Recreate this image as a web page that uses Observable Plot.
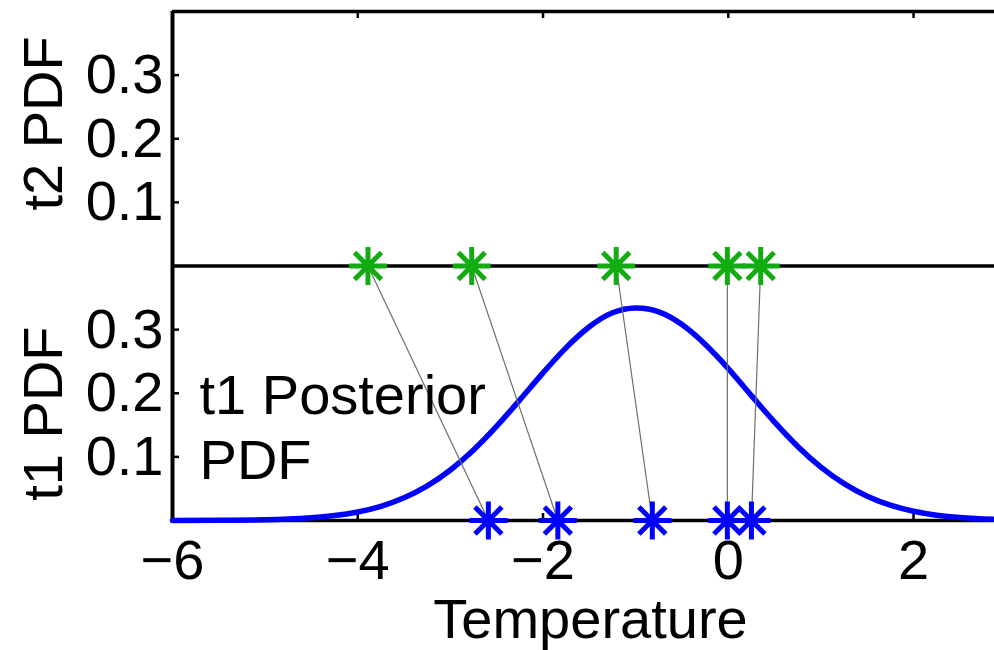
<!DOCTYPE html>
<html>
<head>
<meta charset="utf-8">
<script src="https://cdn.jsdelivr.net/npm/d3@7"></script>
<script src="https://cdn.jsdelivr.net/npm/@observablehq/plot@0.6"></script>
<style>
  html, body { margin: 0; padding: 0; background: #fff; overflow: hidden; }
</style>
</head>
<body>
<div id="chart"></div>
<script>
// ---- data ----
const temperature = [-6, -5.5, -5, -4.75, -4.5, -4.25, -4, -3.75, -3.5, -3.25, -3, -2.75, -2.5, -2.25, -2, -1.75, -1.5, -1.25, -1, -0.75, -0.5, -0.25, 0, 0.25, 0.5, 0.75, 1, 1.25, 1.5, 1.75, 2, 2.25, 2.5, 2.75, 3];
const t1PosteriorPdf = [0.0000, 0.0002, 0.0011, 0.0022, 0.0042, 0.0077, 0.0134, 0.0223, 0.0356, 0.0543, 0.0793, 0.1108, 0.1482, 0.1896, 0.2320, 0.2717, 0.3045, 0.3265, 0.3340, 0.3280, 0.3080, 0.2770, 0.2387, 0.1963, 0.1546, 0.1164, 0.0839, 0.0579, 0.0382, 0.0241, 0.0146, 0.0084, 0.0047, 0.0025, 0.0012];
const t2Samples = [-3.89, -2.77, -1.21, -0.01, 0.35];
const t1Samples = [-2.59, -1.84, -0.82, -0.01, 0.25];
const xTickValues = [-6, -4, -2, 0, 2];
const yTickValues = [0.1, 0.2, 0.3];
const panelLabels = ["t2 PDF", "t1 PDF"];
const annotation = "t1 Posterior\nPDF";
const xLabel = "Temperature";

// ---- layout constants ----
const PANEL = 0.4;           // height of each panel in PDF units (t1 below, t2 stacked above)
const BLUE = "#0000ff";
const GREEN = "rgb(18,172,18)";
const FONT = "'Liberation Sans', Arial, Helvetica, sans-serif";

const curve = temperature.map((x, i) => ({x, y: t1PosteriorPdf[i]}));
const pairs = t2Samples.map((t2, i) => ({t2, t1: t1Samples[i]}));
const yTickPositions = [...yTickValues, ...yTickValues.map(v => v + PANEL)];
const innerTicksX = xTickValues.filter(v => v !== -6);

// MATLAB-style "*" marker: plus + cross
const asterisk = {
  draw(ctx, size) {
    const r = Math.sqrt(size / Math.PI);
    const d = r * Math.SQRT1_2;
    ctx.moveTo(-r, 0); ctx.lineTo(r, 0);
    ctx.moveTo(0, -r); ctx.lineTo(0, r);
    ctx.moveTo(-d, -d); ctx.lineTo(d, d);
    ctx.moveTo(-d, d); ctx.lineTo(d, -d);
  }
};

const tickLen = 7 / 636; // inward tick length (y units)
const tickLenX = 7 / 92.6; // inward tick length (x units)

const chart = Plot.plot({
  width: 994,
  height: 650,
  marginLeft: 172,
  marginRight: 0,
  marginTop: 11,
  marginBottom: 130,
  style: {fontFamily: FONT, fontSize: "56px", background: "white", color: "black", overflow: "hidden"},
  x: {domain: [-6, 2.874]},
  y: {domain: [0, 2 * PANEL]},
  marks: [
    // frame: left edge and horizontal lines (bottom, panel divider, top)
    Plot.ruleX([-6], {y1: 0, y2: 2 * PANEL, stroke: "black", strokeWidth: 4}),
    Plot.ruleY([0, PANEL, 2 * PANEL], {x1: -6, x2: 2.874, stroke: "black", strokeWidth: 3.5}),
    // inward ticks
    Plot.ruleX(innerTicksX, {x: d => d, y1: 0, y2: tickLen, stroke: "black", strokeWidth: 2.5}),
    Plot.ruleX(innerTicksX, {x: d => d, y1: 2 * PANEL - tickLen, y2: 2 * PANEL, stroke: "black", strokeWidth: 2.5}),
    Plot.ruleY(yTickPositions, {y: d => d, x1: -6, x2: -6 + tickLenX, stroke: "black", strokeWidth: 2.5}),
    // axes labels
    Plot.axisX(xTickValues, {tickSize: 0, tickPadding: 19, fontSize: 56, label: null}),
    Plot.axisY(yTickPositions, {tickSize: 0, tickPadding: 9, fontSize: 56, label: null,
      tickFormat: d => (d > PANEL ? d - PANEL : d).toFixed(1)}),
    // t1 posterior curve
    Plot.line(curve, {x: "x", y: "y", stroke: BLUE, strokeWidth: 5.5, curve: "natural"}),
    // links from t2 samples to t1 samples
    Plot.link(pairs, {x1: "t2", y1: () => PANEL, x2: "t1", y2: () => 0, stroke: "#6e6e6e", strokeWidth: 1.2}),
    // sample markers
    Plot.dot(t1Samples, {x: d => d, y: () => 0, symbol: asterisk, r: 19, stroke: BLUE, fill: "none", strokeWidth: 5}),
    Plot.dot(t2Samples, {x: d => d, y: () => PANEL, symbol: asterisk, r: 19, stroke: GREEN, fill: "none", strokeWidth: 5}),
    // annotation
    Plot.text([annotation], {x: -5.708, y: 0.066, text: d => d, textAnchor: "start", lineAnchor: "bottom", lineHeight: 1.16, fontSize: 56, fill: "black"}),
    // panel y labels
    Plot.text(panelLabels, {frameAnchor: "left", y: [0.624, 0.168], text: d => d, rotate: -90, dx: -128, textAnchor: "middle", lineAnchor: "middle", fontSize: 56, fill: "black"}),
    // x label
    Plot.text([xLabel], {frameAnchor: "bottom", text: d => d, dx: 7, dy: 117, textAnchor: "middle", lineAnchor: "bottom", fontSize: 56, fill: "black"})
  ]
});
document.getElementById("chart").appendChild(chart);
</script>
</body>
</html>
